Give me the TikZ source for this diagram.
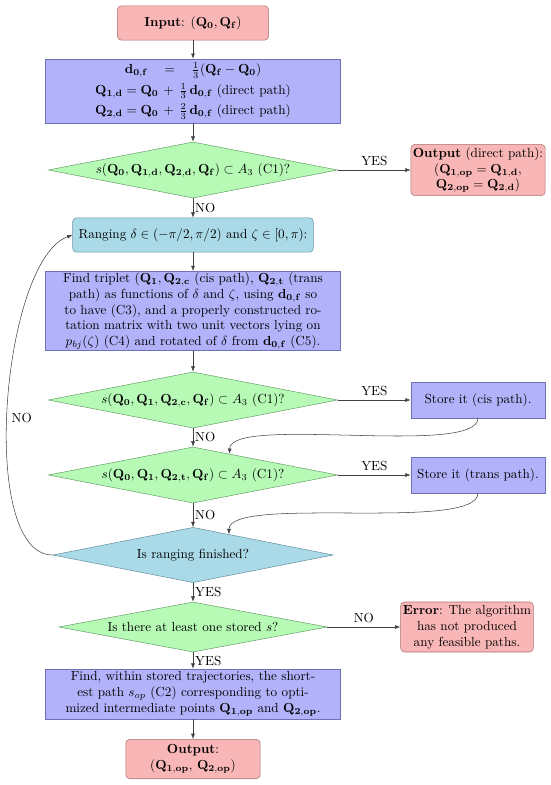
\documentclass[tikz,border=0pt]{standalone}
\usetikzlibrary{shapes.geometric,arrows.meta}
\definecolor{termfill}{RGB}{249,182,182}
\definecolor{termline}{RGB}{170,112,112}
\definecolor{procfill}{RGB}{178,178,250}
\definecolor{procline}{RGB}{112,112,180}
\definecolor{testfill}{RGB}{182,250,182}
\definecolor{testline}{RGB}{110,160,110}
\definecolor{rangefill}{RGB}{170,218,232}
\definecolor{rangeline}{RGB}{105,145,160}
\tikzset{
  term/.style={rectangle, rounded corners=3pt, draw=termline, fill=termfill, align=center, inner sep=1pt},
  proc/.style={rectangle, draw=procline, fill=procfill, align=center, inner sep=1pt},
  rangebox/.style={rectangle, rounded corners=3pt, draw=rangeline, fill=rangefill, align=center, inner sep=1pt},
  test/.style={diamond, aspect=5, draw=testline, fill=testfill, inner sep=1pt},
  flow/.style={-{Latex[length=4pt,width=3pt]}, draw=black!75}
}
\begin{document}
\begin{tikzpicture}[x=0.76pt,y=0.76pt]
\useasboundingbox (0,0) rectangle (550,-785);

\node[term, minimum width=115pt, minimum height=26pt] (inp) at (193,-23) {\textbf{Input}: $(\mathbf{Q_0},\mathbf{Q_f})$};
\node[proc, minimum width=224pt, minimum height=48.6pt] (dir) at (193,-91)
  {$\mathbf{d_{0,f}}\quad=\quad\frac{1}{3}(\mathbf{Q_f}-\mathbf{Q_0})$\\[3.5pt]
   $\mathbf{Q_{1,d}}=\mathbf{Q_0}\,+\,\frac{1}{3}\,\mathbf{d_{0,f}}$ (direct path)\\[3.5pt]
   $\mathbf{Q_{2,d}}=\mathbf{Q_0}\,+\,\frac{2}{3}\,\mathbf{d_{0,f}}$ (direct path)};
\node[test, minimum width=220pt, minimum height=42.6pt] (c1) at (193,-170) {$s(\mathbf{Q_0},\mathbf{Q_{1,d}},\mathbf{Q_{2,d}},\mathbf{Q_f})\subset A_3$ (C1)?};
\node[term, minimum width=102pt, minimum height=39pt] (outd) at (478,-170)
  {\textbf{Output} (direct path):\\ $(\mathbf{Q_{1,op}}=\mathbf{Q_{1,d}},$\\ $\mathbf{Q_{2,op}}=\mathbf{Q_{2,d}})$};
\node[rangebox, minimum width=183pt, minimum height=26pt] (rng) at (193,-235) {Ranging $\delta\in(-\pi/2,\pi/2)$ and $\zeta\in[0,\pi)$:};
\node[proc, minimum width=224pt, minimum height=58pt] (trip) at (193,-311)
  {Find triplet $(\mathbf{Q_1},\mathbf{Q_{2,c}}$ (cis path), $\mathbf{Q_{2,t}}$ (trans\\
   path) as functions of $\delta$ and $\zeta$, using $\mathbf{d_{0,f}}$ so\\
   to have (C3), and a properly constructed ro-\\
   tation matrix with two unit vectors lying on\\
   $p_{bj}(\zeta)$ (C4) and rotated of $\delta$ from $\mathbf{d_{0,f}}$ (C5).};
\node[test, minimum width=220pt, minimum height=42.6pt] (c2) at (193,-400) {$s(\mathbf{Q_0},\mathbf{Q_1},\mathbf{Q_{2,c}},\mathbf{Q_f})\subset A_3$ (C1)?};
\node[proc, minimum width=102pt, minimum height=27pt] (cis) at (478,-400) {Store it (cis path).};
\node[test, minimum width=220pt, minimum height=42.6pt] (c3) at (193,-475) {$s(\mathbf{Q_0},\mathbf{Q_1},\mathbf{Q_{2,t}},\mathbf{Q_f})\subset A_3$ (C1)?};
\node[proc, minimum width=102pt, minimum height=27pt] (trans) at (478,-475) {Store it (trans path).};
\node[test, draw=rangeline, fill=rangefill, minimum width=213pt, minimum height=42pt] (fin) at (193,-555) {Is ranging finished?};
\node[test, minimum width=204pt, minimum height=38pt] (any) at (193,-627) {Is there at least one stored $s$?};
\node[term, minimum width=101pt, minimum height=38pt] (err) at (467,-627)
  {\textbf{Error}: The algorithm\\ has not produced\\ any feasible paths.};
\node[proc, minimum width=224pt, minimum height=38pt] (best) at (193,-694)
  {Find, within stored trajectories, the short-\\
   est path $s_{op}$ (C2) corresponding to opti-\\
   mized intermediate points $\mathbf{Q_{1,op}}$ and $\mathbf{Q_{2,op}}$.};
\node[term, minimum width=102pt, minimum height=30pt] (outp) at (193,-759) {\textbf{Output}:\\ $(\mathbf{Q_{1,op}},\,\mathbf{Q_{2,op}})$};

\draw[flow] (inp) -- (dir);
\draw[flow] (dir) -- (c1);
\draw[flow] (c1) -- node[above]{YES} (outd);
\draw[flow] (c1) -- node[right, inner sep=1.5pt]{NO} (rng);
\draw[flow] (rng) -- (trip);
\draw[flow] (trip) -- (c2);
\draw[flow] (c2) -- node[above]{YES} (cis);
\draw[flow] (c2) -- node[right, inner sep=1.5pt]{NO} (c3);
\draw[flow] (cis.south) to[out=-90, in=90, looseness=.4] (c3.30);
\draw[flow] (c3) -- node[above]{YES} (trans);
\draw[flow] (c3) -- node[right, inner sep=1.5pt]{NO} (fin);
\draw[flow] (trans.south) to[out=-90, in=90, looseness=.4] (fin.30);
\draw[flow] (fin.west) to[out=180, in=200, looseness=.6] node[pos=.47, right]{NO} (rng.west);
\draw[flow] (fin) -- node[right, inner sep=1.5pt]{YES} (any);
\draw[flow] (any) -- node[above]{NO} (err);
\draw[flow] (any) -- node[right, inner sep=1.5pt]{YES} (best);
\draw[flow] (best) -- (outp);
\end{tikzpicture}
\end{document}
